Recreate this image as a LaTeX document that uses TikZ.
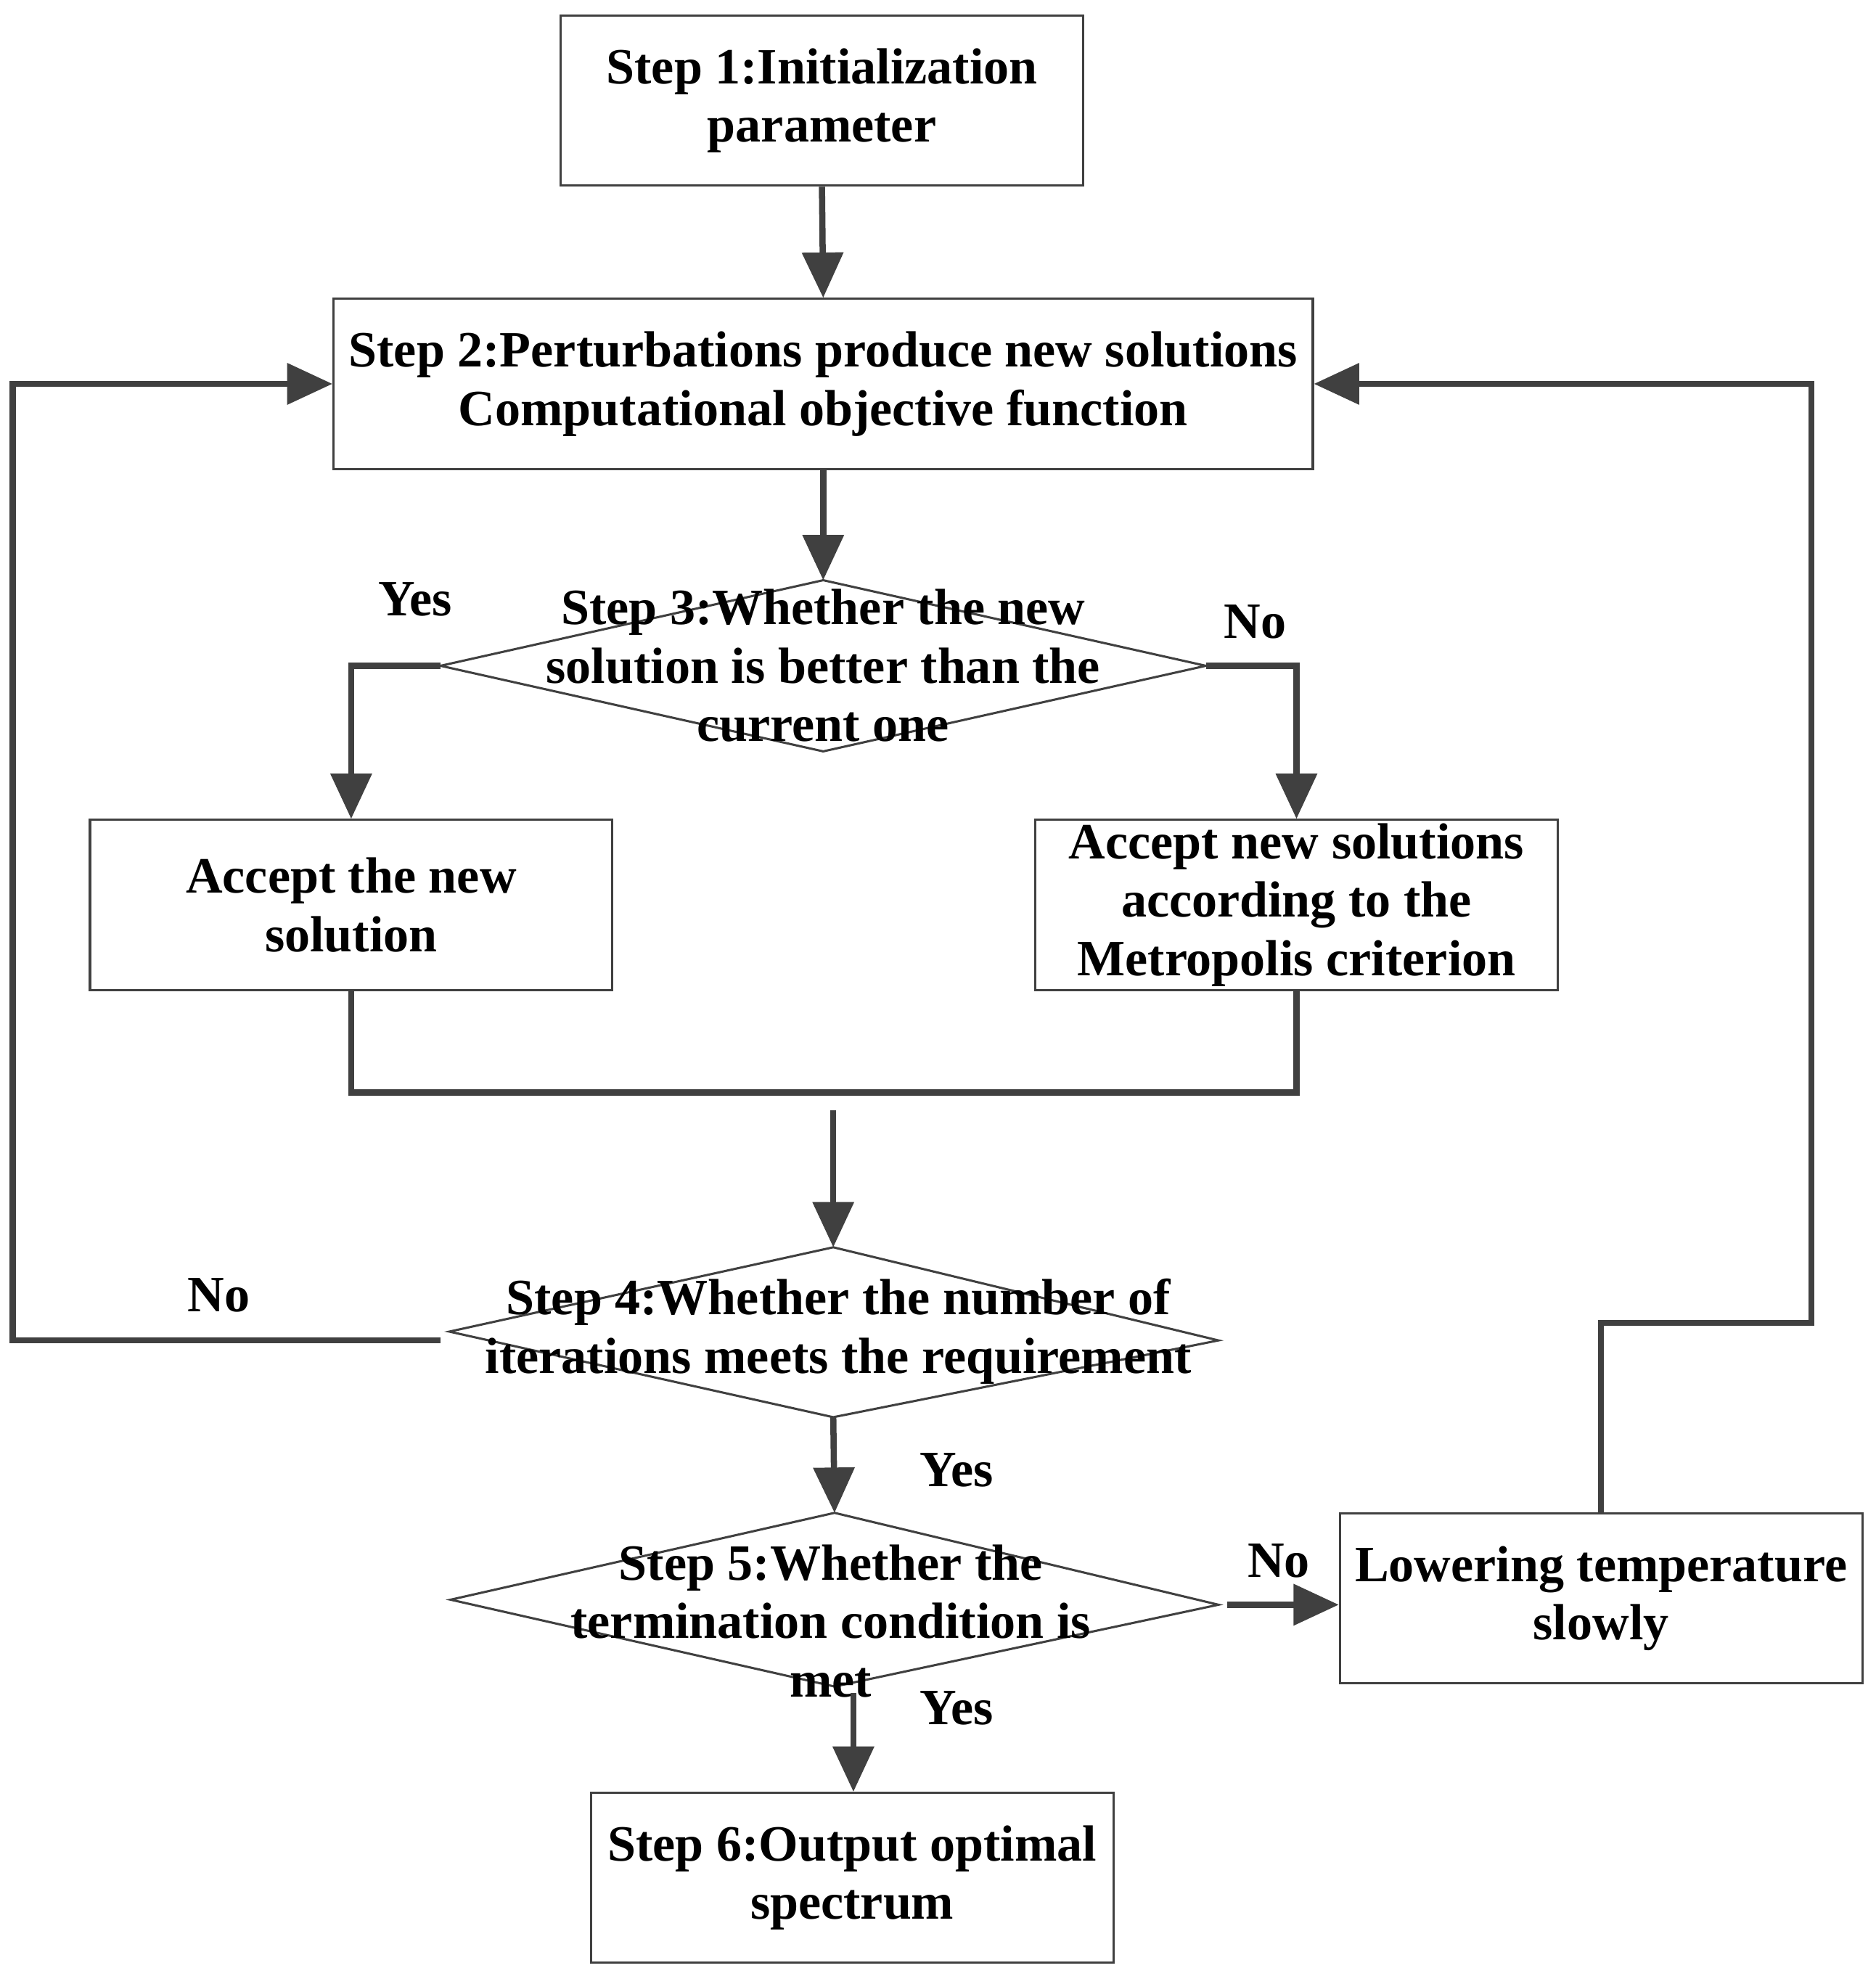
\documentclass[tikz,border=0pt]{standalone}
\usepackage{fontspec}
\setmainfont{Liberation Serif}
\usetikzlibrary{arrows.meta}
\begin{document}
\begin{tikzpicture}[x=0.1mm,y=-0.1mm,
  box/.style={draw=black!75,line width=0.5pt,minimum width=41.5mm,minimum height=13.5mm,align=center,inner sep=0pt},
  txt/.style={font=\fontsize{11.5}{13.2}\selectfont\bfseries,align=center},
  lab/.style={font=\fontsize{11.5}{13}\selectfont\bfseries},
  con/.style={draw=black!75,line width=1.4pt},
  arr/.style={con,-{Triangle[length=3.6mm,width=3.2mm]}},
  dia/.style={draw=black!75,line width=0.5pt}]
\useasboundingbox (0,0) rectangle (1490,1570);
\node[box,txt] (b1) at (653,80) {Step 1:Initialization\\parameter};
\node[box,txt,minimum width=77.8mm] (b2) at (654,305) {Step 2:Perturbations produce new solutions\\Computational objective function};
% diamond 3
\coordinate (d3t) at (654,461); \coordinate (d3b) at (654,597);
\coordinate (d3l) at (350,529); \coordinate (d3r) at (958,529);
\draw[dia] (d3t)--(d3r)--(d3b)--(d3l)--cycle;
\node[txt] (t3) at (654,529) {Step 3:Whether the new\\solution is better than the\\current one};
\node[box,txt] (ba) at (279,719) {Accept the new\\solution};
\node[box,txt] (bm) at (1030,719) {Accept new solutions\\according to the\\Metropolis criterion};
% diamond 4
\coordinate (d4t) at (662,991); \coordinate (d4b) at (662,1126);
\coordinate (d4l) at (357,1058); \coordinate (d4r) at (968,1065);
\draw[dia] (d4t)--(d4r)--(d4b)--(d4l)--cycle;
\node[txt] (t4) at (666,1058) {Step 4:Whether the number of\\iterations meets the requirement};
% diamond 5
\coordinate (d5t) at (663,1202); \coordinate (d5b) at (663,1340);
\coordinate (d5l) at (358,1271); \coordinate (d5r) at (968,1275);
\draw[dia] (d5t)--(d5r)--(d5b)--(d5l)--cycle;
\node[txt] (t5) at (660,1288) {Step 5:Whether the\\termination condition is\\met};
\node[box,txt] (bl) at (1272,1270) {Lowering temperature\\slowly};
\node[box,txt] (b6) at (677,1492) {Step 6:Output optimal\\spectrum};
% connectors
\draw[arr] (b1.south) -- (b2.north);
\draw[arr] (b2.south) -- (d3t);
\draw[arr] (d3l) -| (ba.north);
\draw[arr] (d3r) -| (bm.north);
\coordinate (m1) at (279,868); \coordinate (m2) at (1030,868);
\draw[con] (ba.south) -- (m1) -- (m2) -- (bm.south);
\coordinate (m3) at (662,882);
\draw[arr] (m3) -- (d4t);
\coordinate (l1) at (350,1065); \coordinate (l2) at (10,1065); \coordinate (l3) at (10,305);
\draw[arr] (l1) -- (l2) -- (l3) -- (b2.west);
\draw[arr] (d4b) -- (d5t);
\coordinate (r0) at (975,1275);
\draw[arr] (r0) -- (bl.west |- r0);
\coordinate (r1) at (1272,1051); \coordinate (r2) at (1439,1051); \coordinate (r3) at (1439,305);
\draw[arr] (bl.north) -- (r1) -- (r2) -- (r3) -- (b2.east);
\coordinate (y1) at (678,1345);
\draw[arr] (y1) -- (b6.north -| y1);
\node[lab] at (330,476) {Yes};
\node[lab] at (997,494) {No};
\node[lab] at (174,1029) {No};
\node[lab] at (760,1168) {Yes};
\node[lab] at (1016,1240) {No};
\node[lab] at (760,1357) {Yes};
\end{tikzpicture}
\end{document}
